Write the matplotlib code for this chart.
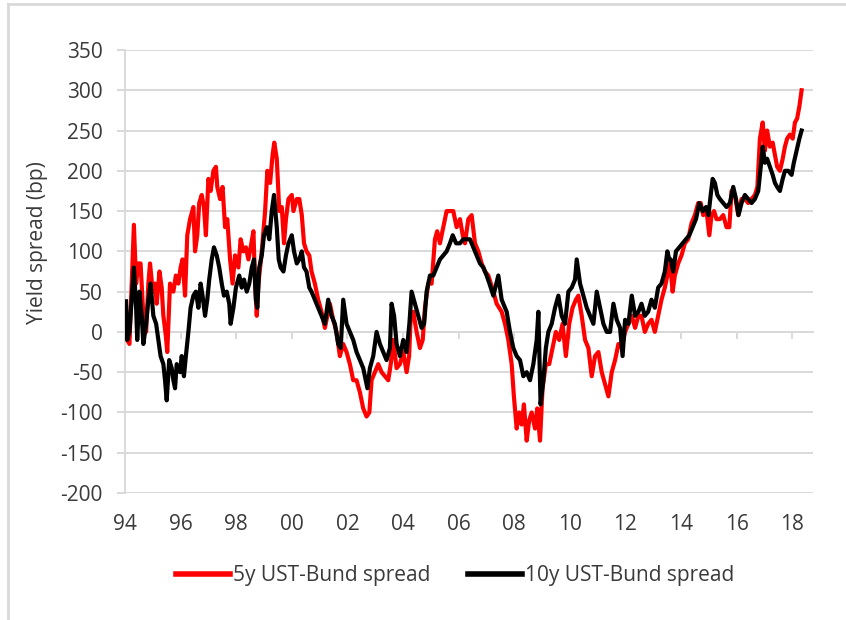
import matplotlib
matplotlib.use("Agg")
import matplotlib.pyplot as plt
from matplotlib.lines import Line2D

# ---- data ----
years_5y = [
    1994.04, 1994.08, 1994.16, 1994.24, 1994.32, 1994.40, 1994.48, 1994.56, 1994.66, 1994.76,
    1994.84, 1994.90, 1995.00, 1995.08, 1995.14, 1995.24, 1995.32, 1995.38, 1995.47, 1995.52,
    1995.62, 1995.74, 1995.83, 1995.92, 1996.00, 1996.07, 1996.16, 1996.24, 1996.34, 1996.46,
    1996.52, 1996.60, 1996.67, 1996.76, 1996.84, 1996.91, 1997.00, 1997.08, 1997.18, 1997.27,
    1997.32, 1997.42, 1997.51, 1997.60, 1997.68, 1997.78, 1997.87, 1997.96, 1998.08, 1998.16,
    1998.26, 1998.35, 1998.44, 1998.52, 1998.62, 1998.68, 1998.74, 1998.80, 1998.92, 1999.04,
    1999.12, 1999.22, 1999.31, 1999.37, 1999.46, 1999.55, 1999.64, 1999.72, 1999.79, 1999.88,
    2000.00, 2000.06, 2000.18, 2000.27, 2000.36, 2000.44, 2000.53, 2000.63,
    2000.71, 2000.83, 2000.95, 2001.07, 2001.19, 2001.28, 2001.37, 2001.49, 2001.61, 2001.73,
    2001.85, 2001.97, 2002.09, 2002.21, 2002.33, 2002.45, 2002.57, 2002.69, 2002.79, 2002.87,
    2002.99, 2003.11, 2003.23, 2003.35, 2003.47, 2003.56, 2003.65, 2003.77, 2003.89, 2004.01,
    2004.13, 2004.22, 2004.28, 2004.37, 2004.49, 2004.61, 2004.71, 2004.79, 2004.91, 2005.03,
    2005.15, 2005.23, 2005.33, 2005.45, 2005.57, 2005.69, 2005.81, 2005.93, 2006.05, 2006.15,
    2006.23, 2006.35, 2006.47, 2006.59, 2006.71, 2006.83, 2006.95, 2007.07,
    2007.25, 2007.37, 2007.55, 2007.67, 2007.79, 2007.91, 2007.99, 2008.09, 2008.18, 2008.27,
    2008.35, 2008.45, 2008.54, 2008.63, 2008.75, 2008.83, 2008.93, 2009.02, 2009.14, 2009.26,
    2009.38, 2009.50, 2009.62, 2009.74, 2009.86, 2009.98, 2010.10, 2010.22, 2010.31, 2010.43,
    2010.55, 2010.67, 2010.79, 2010.91, 2011.03, 2011.15, 2011.27, 2011.39, 2011.51, 2011.63,
    2011.75, 2011.87, 2011.99, 2012.11, 2012.23, 2012.35, 2012.47, 2012.58, 2012.70, 2012.82,
    2012.94, 2013.06, 2013.18, 2013.30, 2013.42, 2013.54,
    2013.60, 2013.70, 2013.78, 2013.90, 2014.02, 2014.14, 2014.26, 2014.38, 2014.50, 2014.62,
    2014.71, 2014.80, 2014.92, 2015.02, 2015.10, 2015.19, 2015.28, 2015.40, 2015.52, 2015.64,
    2015.74, 2015.82, 2015.94, 2016.06, 2016.18, 2016.30, 2016.42, 2016.54, 2016.66, 2016.75,
    2016.84, 2016.94, 2017.02, 2017.10, 2017.20, 2017.30, 2017.38, 2017.46, 2017.56, 2017.66,
    2017.74, 2017.82, 2017.92, 2018.02, 2018.10, 2018.18, 2018.26, 2018.34,
]
spread_5y = [
    30, -10, -15, 60, 133, 60, 85, 85, 20, 0,
    60, 85, 50, 60, 35, 75, 55, 20, -5, -25,
    60, 50, 70, 60, 80, 90, 45, 120, 140, 155,
    100, 120, 160, 170, 155, 120, 190, 175, 200, 205,
    180, 165, 180, 130, 140, 90, 60, 95, 80, 115,
    100, 105, 90, 105, 125, 60, 20, 60, 100, 150,
    200, 185, 220, 235, 215, 150, 155, 110, 140, 165,
    170, 150, 165, 165, 145, 110, 100, 95,
    75, 60, 40, 25, 5, 20, 35, 15, 0, -30,
    -15, -25, -40, -60, -60, -75, -95, -105, -100, -60,
    -50, -40, -50, -55, -60, -40, -10, -45, -40, -25,
    -50, -30, 20, 25, 0, -20, -10, 30, 60, 60,
    115, 125, 110, 130, 150, 150, 150, 130, 140, 120,
    110, 140, 145, 110, 100, 85, 75, 70,
    50, 35, 25, 10, -10, -40, -80, -120, -100, -115,
    -90, -135, -110, -100, -120, -95, -135, -70, -40, -40,
    -20, 0, -10, 10, -30, 10, 30, 40, 45, 20,
    -10, -20, -55, -30, -25, -50, -65, -80, -50, -35,
    -15, -20, 0, 10, 20, 5, 20, 20, 0, 10,
    15, 0, 20, 40, 55, 75,
    90, 50, 70, 85, 95, 110, 115, 135, 145, 160,
    160, 145, 150, 120, 145, 150, 140, 140, 145, 130,
    130, 175, 170, 145, 165, 165, 160, 165, 170, 180,
    240, 260, 225, 250, 230, 235, 220, 205, 200, 215,
    230, 240, 245, 240, 260, 265, 280, 300,
]

years_10y = [
    1994.04, 1994.08, 1994.16, 1994.24, 1994.32, 1994.40, 1994.44, 1994.52, 1994.60, 1994.66,
    1994.76, 1994.84, 1994.92, 1995.02, 1995.12, 1995.20, 1995.28, 1995.38, 1995.44, 1995.50,
    1995.59, 1995.68, 1995.74, 1995.80, 1995.86, 1995.98, 1996.04, 1996.12, 1996.19, 1996.28,
    1996.36, 1996.46, 1996.55, 1996.64, 1996.72, 1996.79, 1996.88, 1996.96, 1997.03, 1997.12,
    1997.20, 1997.30, 1997.39, 1997.48, 1997.56, 1997.66, 1997.75, 1997.80, 1997.90, 1997.99,
    1998.11, 1998.20, 1998.28, 1998.38, 1998.47, 1998.56, 1998.64, 1998.71, 1998.76, 1998.83,
    1998.92, 1999.00, 1999.10, 1999.19, 1999.28, 1999.36, 1999.46, 1999.53, 1999.60, 1999.70,
    1999.79, 1999.88, 2000.00, 2000.08, 2000.18, 2000.27, 2000.36, 2000.44, 2000.53, 2000.63,
    2000.71, 2000.83, 2000.95, 2001.07, 2001.19, 2001.31, 2001.43, 2001.55, 2001.67, 2001.76,
    2001.85, 2001.97, 2002.09, 2002.21, 2002.33, 2002.45, 2002.57, 2002.72, 2002.81, 2002.93,
    2003.05, 2003.17, 2003.29, 2003.41, 2003.53, 2003.59, 2003.68, 2003.77, 2003.89, 2004.01,
    2004.13, 2004.23, 2004.31, 2004.43, 2004.55, 2004.67, 2004.76, 2004.85, 2004.97, 2005.09,
    2005.21, 2005.33, 2005.45, 2005.57, 2005.69, 2005.79, 2005.91, 2006.05, 2006.17, 2006.29,
    2006.41, 2006.53, 2006.65, 2006.77, 2006.89, 2007.01, 2007.11,
    2007.25, 2007.43, 2007.55, 2007.73, 2007.85, 2007.97, 2008.09, 2008.21, 2008.33, 2008.45,
    2008.57, 2008.69, 2008.81, 2008.87, 2008.95, 2009.05, 2009.14, 2009.23, 2009.35, 2009.47,
    2009.59, 2009.71, 2009.83, 2009.95, 2010.07, 2010.19, 2010.25, 2010.37, 2010.49, 2010.61,
    2010.73, 2010.85, 2010.97, 2011.09, 2011.21, 2011.33, 2011.45, 2011.57, 2011.69, 2011.81,
    2011.90, 2011.99, 2012.11, 2012.23, 2012.35, 2012.47, 2012.58, 2012.70, 2012.82, 2012.94,
    2013.06, 2013.18, 2013.30, 2013.42, 2013.51, 2013.58,
    2013.63, 2013.72, 2013.82, 2013.94, 2014.06, 2014.18, 2014.30, 2014.42, 2014.54, 2014.66,
    2014.78, 2014.90, 2014.99, 2015.07, 2015.14, 2015.22, 2015.31, 2015.40, 2015.52, 2015.64,
    2015.76, 2015.88, 2015.98, 2016.07, 2016.18, 2016.30, 2016.42, 2016.54, 2016.66, 2016.78,
    2016.87, 2016.94, 2017.02, 2017.10, 2017.20, 2017.30, 2017.38, 2017.46, 2017.56, 2017.66,
    2017.74, 2017.86, 2017.98, 2018.06, 2018.16, 2018.26, 2018.34,
]
spread_10y = [
    38, -10, 0, 40, 80, 30, -10, 50, 20, -15,
    10, 40, 60, 20, 10, -10, -30, -40, -60, -85,
    -35, -45, -60, -70, -40, -50, -30, -55, -30, 0,
    30, 45, 50, 30, 60, 45, 20, 40, 65, 90,
    105, 95, 80, 60, 45, 50, 35, 10, 30, 55,
    70, 55, 65, 50, 60, 80, 90, 40, 30, 80,
    95, 120, 130, 115, 150, 170, 130, 90, 80, 75,
    95, 110, 120, 100, 85, 90, 100, 80, 75, 55,
    50, 40, 30, 20, 10, 40, 20, 10, -15, -20,
    40, 10, 0, -10, -25, -35, -45, -70, -45, -30,
    0, -15, -25, -35, -20, 35, 20, -15, -30, -10,
    -25, 10, 50, 35, 20, 5, 10, 50, 70, 70,
    80, 90, 95, 100, 110, 120, 110, 110, 115, 115,
    115, 105, 95, 85, 80, 70, 60,
    45, 70, 40, 25, 0, -20, -30, -35, -55, -50,
    -60, -40, -10, 25, -90, -60, -20, 0, 10, 30,
    45, 20, 10, 50, 55, 65, 90, 60, 45, 30,
    20, 10, 50, 30, 10, 0, 0, 35, 15, 5,
    -30, 15, 10, 45, 20, 25, 35, 20, 25, 40,
    30, 55, 60, 75, 100, 90,
    90, 75, 100, 105, 110, 115, 120, 130, 140, 160,
    150, 155, 145, 170, 190, 185, 170, 165, 160, 155,
    160, 180, 165, 145, 160, 170, 165, 160, 165, 175,
    205, 230, 210, 215, 205, 195, 185, 180, 175, 190,
    200, 200, 195, 210, 225, 240, 250,
]

tick_years = list(range(1994, 2019, 2))
tick_labels = ["94", "96", "98", "00", "02", "04", "06", "08", "10", "12", "14", "16", "18"]
y_ticks = list(range(-200, 351, 50))
label_5y = "5y UST-Bund spread"
label_10y = "10y UST-Bund spread"
y_label = "Yield spread (bp)"

# ---- styling ----
plt.rcParams["font.family"] = ["Open Sans", "DejaVu Sans"]
GRID = "#d9d9d9"
TEXT = "#3a3a3a"
FS = 15

fig = plt.figure(figsize=(8.46, 6.2), dpi=100)
W, H = 846, 620
ax = fig.add_axes([125 / W, 1 - 493 / H, (813 - 125) / W, (493 - 50) / H])

ax.plot(years_5y, spread_5y, color="#ff0000", lw=3.0, solid_joinstyle="round", zorder=3)
ax.plot(years_10y, spread_10y, color="#000000", lw=3.0, solid_joinstyle="round", zorder=4)

ax.set_xlim(1994, 2018.75)
ax.set_ylim(-200, 350)
ax.set_yticks(y_ticks)
ax.set_yticklabels([str(v) for v in y_ticks])
ax.yaxis.grid(True, color=GRID, lw=1.4)
ax.set_axisbelow(True)

for s in ["top", "right", "bottom"]:
    ax.spines[s].set_visible(False)
ax.spines["left"].set_color(GRID)
ax.spines["left"].set_linewidth(1.4)

ax.tick_params(axis="y", direction="out", length=6, width=1.4, color=GRID,
               labelsize=FS, labelcolor=TEXT, pad=10)

# main x axis: labels at the bottom, no marks
ax.set_xticks(tick_years)
ax.set_xticklabels(tick_labels)
ax.tick_params(axis="x", length=0, labelsize=FS, labelcolor=TEXT, pad=15)

# axis line with tick marks through zero
sec = ax.secondary_xaxis((0 - (-200)) / 550)
sec.set_xticks(tick_years)
sec.set_xticklabels([""] * len(tick_years))
sec.spines["bottom"].set_color(GRID)
sec.spines["bottom"].set_linewidth(1.4)
sec.tick_params(axis="x", direction="out", length=5, width=1.4, color=GRID)

fig.text(38 / W, 1 - 243 / H, y_label, rotation=90, ha="center", va="center",
         fontsize=FS, color=TEXT)

handles = [Line2D([], [], color="#ff0000", lw=4), Line2D([], [], color="#000000", lw=4)]
fig.legend(handles, [label_5y, label_10y], loc="center", bbox_to_anchor=(455 / W, 1 - 576 / H),
           ncol=2, frameon=False, fontsize=FS, labelcolor=TEXT, handlelength=2.6,
           handletextpad=0.15, columnspacing=1.8)

# outer frame (top and left edges)
fig.add_artist(Line2D([8 / W, 8 / W], [0, 1 - 4 / H], color=GRID, lw=2, transform=fig.transFigure))
fig.add_artist(Line2D([8 / W, 1], [1 - 4 / H, 1 - 4 / H], color=GRID, lw=2, transform=fig.transFigure))

fig.savefig("out.png", dpi=100)
